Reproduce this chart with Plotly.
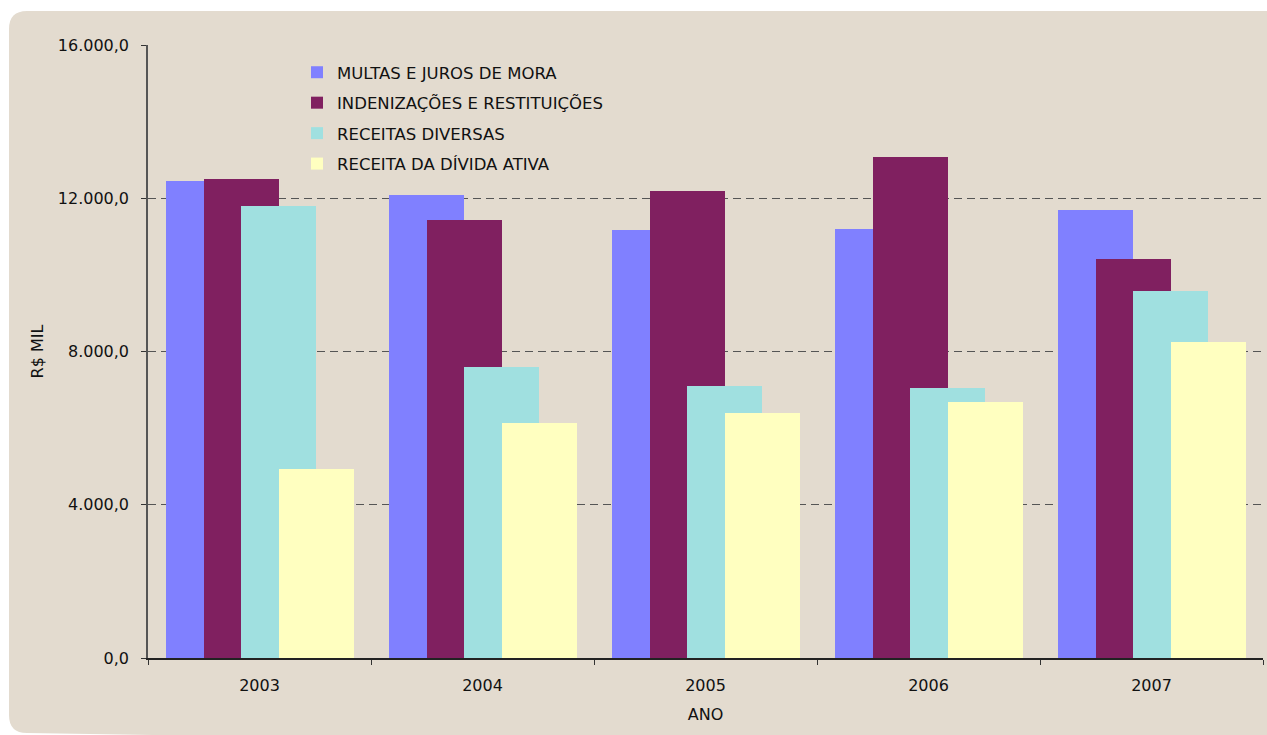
import plotly.graph_objects as go

anos = ["2003", "2004", "2005", "2006", "2007"]
series_names = ["MULTAS E JUROS DE MORA", "INDENIZAÇÕES E RESTITUIÇÕES",
                "RECEITAS DIVERSAS", "RECEITA DA DÍVIDA ATIVA"]
multas = [12460, 12095, 11180, 11206, 11702]
indenizacoes = [12510, 11443, 12198, 13085, 10425]
receitas_diversas = [11808, 7607, 7112, 7060, 9590]
divida_ativa = [4946, 6146, 6382, 6695, 8236]
y_ticks = [0, 4000, 8000, 12000, 16000]

colors = ["#8080FF", "#802060", "#A0E0E0", "#FFFFC0"]
values = [multas, indenizacoes, receitas_diversas, divida_ativa]

W, H = 1267, 735
L, R, T, B = 148, 1263, 45, 658
cat_px = (R - L) / len(anos)
bar_w = 75 / cat_px
step = 37.5 / cat_px
first_off = (-cat_px / 2 + 18) / cat_px

fig = go.Figure()
for i, (name, vals, c) in enumerate(zip(series_names, values, colors)):
    fig.add_trace(go.Bar(
        x=anos, y=vals, name=name, marker=dict(color=c, line=dict(width=0)),
        width=bar_w, offset=first_off + i * step, legendgroup=name,
    ))

def px(x):
    return (x - L) / (R - L)

def py(y):
    return (B - y) / (B - T)

# rounded background card
x0, y0, x1, y1, r = 9, 11, 1267, 733, 18
path = (f"M {px(x0)},{py(y0 + r)} Q {px(x0)},{py(y0)} {px(x0 + r)},{py(y0)} "
        f"L {px(x1 + 20)},{py(y0)} L {px(x1 + 20)},{py(y1 + 20)} "
        f"L {px(x0 + r)},{py(y1)} Q {px(x0)},{py(y1)} {px(x0)},{py(y1 - r)} Z")

fig.update_layout(
    width=W, height=H,
    margin=dict(l=L, r=W - R, t=T, b=H - B, pad=0),
    paper_bgcolor="white", plot_bgcolor="rgba(0,0,0,0)",
    barmode="overlay", bargap=0,
    separators=",.",
    font=dict(family="DejaVu Sans, Verdana, sans-serif", size=16, color="#111"),
    shapes=[dict(type="path", path=path, xref="paper", yref="paper",
                 fillcolor="#E3DBCF", line=dict(width=0), layer="below")],
    legend=dict(x=px(297), y=py(55), xanchor="left", yanchor="top",
                bgcolor="rgba(0,0,0,0)", tracegroupgap=6,
                font=dict(size=16.5, color="#111")),
    showlegend=True,
)
fig.update_xaxes(
    type="category", tickson="boundaries", ticks="outside", ticklen=5,
    tickcolor="#333", showline=True, linecolor="#222", linewidth=1.5,
    showgrid=False, ticklabelstandoff=12,
    title=dict(text="ANO", standoff=15, font=dict(size=16)),
    tickfont=dict(size=16),
)
fig.update_yaxes(
    range=[0, 16000], tickvals=y_ticks, tickformat=",.1f",
    ticks="outside", ticklen=5, tickcolor="#333",
    showline=True, linecolor="#555", linewidth=1.5,
    showgrid=True, gridcolor="#555", griddash="8px,5px", gridwidth=1,
    zeroline=False, ticklabelstandoff=9,
    title=dict(text="R$ MIL", standoff=10, font=dict(size=16)),
    tickfont=dict(size=16),
)

fig.write_html(
    "out.html",
    config={"displayModeBar": False},
    post_script="document.body.style.margin='0';document.body.style.overflow='hidden';",
)
